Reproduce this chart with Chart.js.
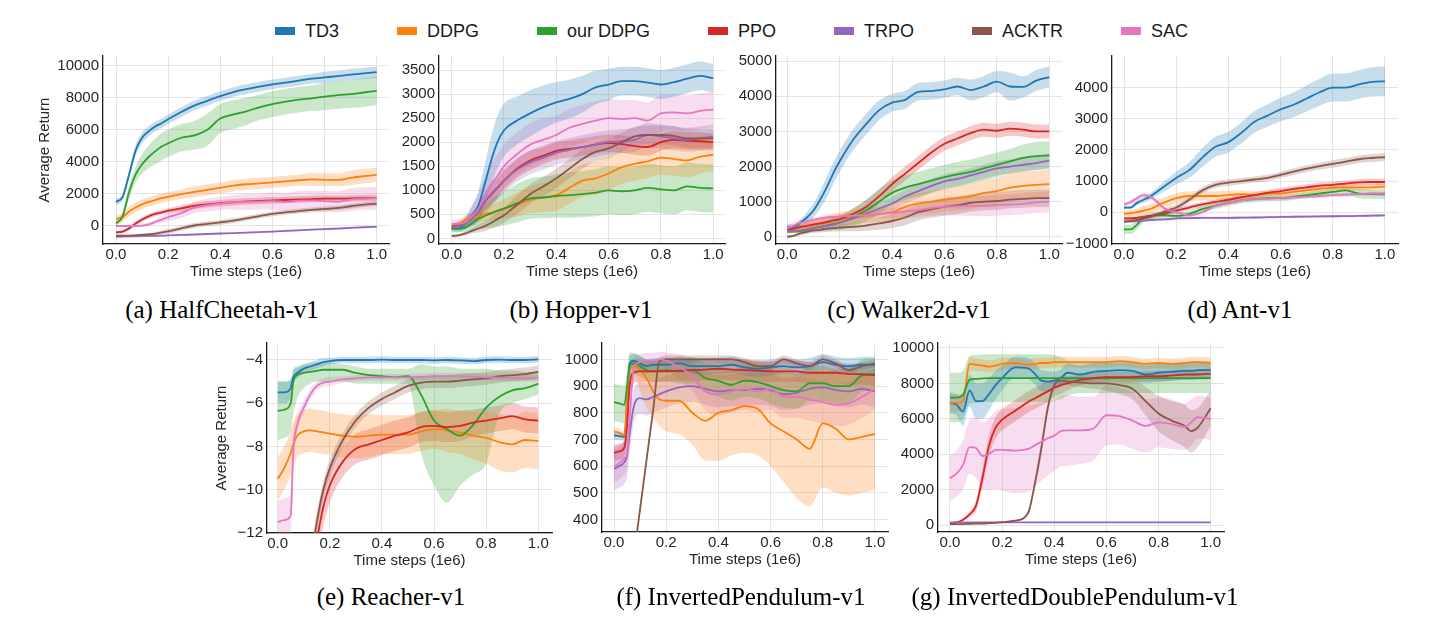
<!DOCTYPE html>
<html>
<head>
<meta charset="utf-8">
<script src="https://cdn.jsdelivr.net/npm/chart.js@4.4.1/dist/chart.umd.min.js"></script>
<style>
  body { margin: 0; background: #fff; width: 1447px; height: 634px; position: relative; overflow: hidden; font-family: 'Liberation Sans', Arial, sans-serif; }
  .panel { position: absolute; }
  .caption { position: absolute; font-family: 'Liberation Serif', 'Times New Roman', serif; font-size: 25px; line-height: 1; white-space: nowrap; transform: translate(-50%, -50%); color: #000; }
  #legend { position: absolute; left: 275px; top: 21px; display: flex; gap: 58px; font-size: 18px; line-height: 20px; color: #1a1a1a; }
  .item { display: flex; align-items: center; }
  .swatch { width: 20px; height: 8px; margin-right: 10px; }
</style>
</head>
<body>
<div id="legend"></div>
<script>
const algos = ['TD3', 'DDPG', 'our DDPG', 'PPO', 'TRPO', 'ACKTR', 'SAC'];
const colors = ['#1f77b4', '#ff7f0e', '#2ca02c', '#d62728', '#9467bd', '#8c564b', '#e377c2'];
const xTicks = [0, 0.2, 0.4, 0.6, 0.8, 1.0];

// time steps (1e6) for the four top panels
const stepsA = [0, 0.025, 0.05, 0.075, 0.1, 0.125, 0.15, 0.175, 0.2, 0.25, 0.3, 0.35, 0.4, 0.45, 0.5, 0.55, 0.6, 0.65, 0.7, 0.75, 0.8, 0.85, 0.9, 0.95, 1.0];

// (a) HalfCheetah
const hcTicks = [0, 2000, 4000, 6000, 8000, 10000];
const hcTD3 = [1500, 1800, 3200, 4700, 5500, 5900, 6200, 6400, 6650, 7100, 7500, 7800, 8100, 8350, 8530, 8690, 8830, 8940, 9060, 9180, 9260, 9340, 9430, 9510, 9590];
const hcTD3Sd = [200, 200, 300, 350, 350, 300, 300, 300, 300, 300, 300, 300, 300, 300, 300, 300, 300, 300, 300, 300, 350, 350, 350, 350, 350];
const hcDDPG = [450, 550, 900, 1150, 1350, 1500, 1620, 1730, 1820, 1980, 2120, 2250, 2380, 2520, 2600, 2650, 2720, 2780, 2850, 2900, 2880, 2870, 3000, 3100, 3180];
const hcDDPGSd = [200, 250, 300, 300, 300, 300, 300, 300, 300, 300, 350, 350, 350, 350, 350, 350, 350, 350, 350, 400, 400, 400, 450, 450, 450];
const hcOurs = [150, 600, 2100, 3200, 3850, 4300, 4650, 4950, 5150, 5500, 5650, 6000, 6700, 6950, 7150, 7400, 7600, 7750, 7880, 7960, 8060, 8160, 8220, 8320, 8420];
const hcOursSd = [150, 250, 400, 500, 600, 700, 800, 850, 850, 850, 900, 1000, 900, 900, 850, 800, 800, 800, 800, 800, 850, 850, 850, 900, 900];
const hcPPO = [-400, -350, -150, 150, 400, 600, 750, 850, 950, 1100, 1250, 1350, 1420, 1480, 1530, 1560, 1600, 1620, 1650, 1680, 1700, 1700, 1720, 1730, 1740];
const hcPPOSd = [100, 100, 120, 150, 150, 150, 150, 150, 150, 200, 200, 200, 200, 200, 200, 200, 200, 200, 200, 200, 200, 200, 200, 200, 200];
const hcTRPO = [-670, -660, -650, -640, -630, -620, -610, -600, -590, -560, -530, -500, -470, -440, -410, -380, -350, -310, -270, -230, -200, -160, -120, -80, -50];
const hcTRPOSd = [50, 50, 50, 50, 50, 50, 50, 50, 50, 50, 50, 50, 50, 50, 50, 50, 50, 50, 50, 50, 50, 50, 50, 50, 50];
const hcACKTR = [-600, -600, -600, -580, -550, -520, -470, -400, -330, -150, 30, 130, 230, 340, 480, 620, 750, 850, 930, 1000, 1060, 1130, 1230, 1330, 1400];
const hcACKTRSd = [50, 50, 50, 60, 80, 100, 100, 120, 150, 150, 150, 150, 150, 150, 150, 150, 150, 150, 150, 150, 150, 150, 150, 150, 150];
const hcSAC = [0, 0, 0, 0, 20, 100, 250, 400, 550, 800, 1150, 1300, 1400, 1480, 1500, 1520, 1550, 1500, 1580, 1600, 1550, 1500, 1650, 1700, 1730];
const hcSACSd = [50, 50, 50, 60, 80, 100, 150, 200, 250, 300, 350, 400, 400, 450, 500, 500, 550, 550, 600, 600, 650, 650, 700, 700, 700];

// (b) Hopper
const hopTicks = [0, 500, 1000, 1500, 2000, 2500, 3000, 3500];
const hopTD3 = [220, 200, 300, 450, 650, 1100, 1600, 2000, 2250, 2450, 2600, 2730, 2830, 2900, 3000, 3140, 3200, 3270, 3270, 3240, 3200, 3250, 3320, 3380, 3330];
const hopTD3Sd = [80, 80, 120, 200, 300, 400, 500, 550, 550, 500, 480, 450, 420, 400, 380, 350, 330, 300, 300, 300, 300, 300, 300, 300, 300];
const hopDDPG = [230, 300, 380, 430, 460, 500, 530, 580, 620, 700, 800, 850, 900, 1050, 1200, 1250, 1350, 1480, 1550, 1600, 1680, 1650, 1620, 1700, 1740];
const hopDDPGSd = [60, 60, 80, 100, 120, 150, 150, 170, 200, 250, 280, 300, 320, 330, 340, 350, 350, 350, 350, 350, 350, 350, 350, 350, 350];
const hopOurs = [200, 200, 220, 300, 400, 460, 520, 570, 620, 730, 830, 850, 880, 900, 920, 950, 1000, 980, 1000, 1050, 1020, 1000, 1080, 1050, 1040];
const hopOursSd = [50, 60, 80, 150, 200, 250, 300, 330, 350, 400, 420, 430, 450, 470, 480, 490, 500, 500, 500, 500, 500, 500, 500, 500, 500];
const hopPPO = [250, 260, 300, 420, 550, 750, 900, 1050, 1200, 1450, 1620, 1720, 1820, 1860, 1900, 1950, 1980, 1960, 1920, 1900, 2000, 2050, 2030, 2020, 2000];
const hopPPOSd = [60, 60, 80, 100, 150, 180, 200, 200, 200, 200, 200, 180, 180, 180, 180, 180, 180, 180, 180, 180, 180, 180, 180, 180, 180];
const hopTRPO = [240, 250, 300, 420, 550, 750, 920, 1060, 1200, 1430, 1580, 1680, 1780, 1840, 1900, 1950, 2000, 2020, 2050, 2150, 2120, 2080, 2050, 2080, 2120];
const hopTRPOSd = [60, 60, 80, 100, 150, 200, 250, 250, 250, 250, 250, 250, 250, 250, 250, 250, 250, 250, 250, 250, 250, 250, 250, 250, 250];
const hopACKTR = [50, 60, 100, 150, 200, 250, 320, 400, 480, 700, 920, 1080, 1250, 1450, 1650, 1800, 1870, 2000, 2120, 2150, 2150, 2130, 2080, 2080, 2080];
const hopACKTRSd = [30, 30, 40, 50, 80, 100, 120, 150, 150, 200, 200, 200, 200, 200, 200, 200, 200, 200, 200, 200, 200, 200, 200, 200, 200];
const hopSAC = [300, 310, 330, 450, 600, 850, 1100, 1300, 1500, 1750, 1950, 2050, 2150, 2300, 2380, 2450, 2500, 2480, 2500, 2450, 2600, 2620, 2600, 2650, 2680];
const hopSACSd = [80, 80, 100, 200, 300, 400, 450, 450, 450, 450, 450, 450, 400, 400, 400, 400, 400, 400, 380, 380, 380, 370, 370, 370, 370];

// (c) Walker2d
const wkTicks = [0, 1000, 2000, 3000, 4000, 5000];
const wkTD3 = [280, 280, 400, 550, 750, 1050, 1400, 1800, 2150, 2750, 3200, 3600, 3820, 3900, 4130, 4150, 4200, 4280, 4180, 4280, 4420, 4280, 4270, 4450, 4550];
const wkTD3Sd = [80, 80, 100, 150, 200, 250, 300, 300, 300, 300, 300, 280, 250, 250, 250, 250, 250, 250, 300, 300, 300, 400, 300, 300, 300];
const wkDDPG = [200, 220, 260, 300, 350, 390, 430, 470, 500, 560, 600, 650, 700, 850, 950, 1000, 1050, 1100, 1150, 1250, 1300, 1400, 1450, 1480, 1500];
const wkDDPGSd = [60, 60, 80, 100, 120, 150, 150, 180, 200, 200, 200, 220, 250, 280, 300, 320, 330, 350, 350, 370, 380, 400, 400, 400, 400];
const wkOurs = [150, 150, 160, 200, 250, 280, 320, 360, 400, 550, 750, 1000, 1250, 1400, 1500, 1600, 1700, 1780, 1850, 1950, 2050, 2150, 2250, 2300, 2320];
const wkOursSd = [50, 50, 60, 80, 100, 120, 150, 170, 200, 250, 300, 350, 350, 350, 350, 350, 350, 350, 350, 350, 350, 350, 380, 400, 400];
const wkPPO = [200, 230, 280, 320, 350, 380, 420, 460, 500, 650, 850, 1150, 1500, 1800, 2100, 2400, 2650, 2800, 2950, 3050, 3020, 3080, 3050, 3000, 3000];
const wkPPOSd = [60, 60, 70, 80, 90, 100, 100, 100, 100, 150, 200, 200, 200, 200, 200, 200, 200, 200, 200, 200, 200, 200, 200, 200, 200];
const wkTRPO = [150, 160, 180, 210, 250, 280, 310, 350, 400, 520, 650, 800, 950, 1150, 1300, 1450, 1580, 1650, 1750, 1850, 1950, 2000, 2050, 2100, 2170];
const wkTRPOSd = [50, 50, 60, 80, 100, 100, 120, 150, 150, 150, 180, 200, 200, 200, 200, 200, 200, 200, 200, 200, 200, 200, 200, 200, 200];
const wkACKTR = [0, 30, 100, 140, 180, 200, 230, 250, 260, 280, 320, 380, 450, 550, 700, 780, 860, 900, 970, 1000, 1020, 1060, 1080, 1100, 1100];
const wkACKTRSd = [30, 40, 50, 60, 70, 80, 90, 100, 100, 120, 150, 180, 200, 220, 230, 240, 250, 250, 250, 250, 250, 250, 250, 250, 250];
const wkSAC = [250, 320, 400, 440, 480, 520, 550, 570, 580, 600, 620, 650, 680, 720, 760, 820, 860, 870, 880, 880, 900, 920, 940, 980, 1000];
const wkSACSd = [100, 100, 80, 80, 70, 70, 70, 70, 70, 80, 100, 120, 150, 180, 200, 220, 250, 260, 280, 290, 300, 300, 300, 300, 300];

// (d) Ant
const antTicks = [-1000, 0, 1000, 2000, 3000, 4000];
const antTD3 = [150, 150, 300, 400, 500, 650, 800, 950, 1100, 1350, 1750, 2100, 2250, 2550, 2900, 3100, 3300, 3450, 3650, 3850, 4000, 4000, 4100, 4180, 4200];
const antTD3Sd = [50, 60, 80, 100, 100, 120, 150, 180, 200, 250, 300, 320, 330, 340, 350, 360, 380, 400, 420, 430, 450, 450, 460, 470, 480];
const antDDPG = [-50, -30, 0, 50, 100, 200, 300, 380, 450, 520, 520, 520, 550, 580, 550, 600, 600, 650, 700, 750, 780, 800, 800, 800, 820];
const antDDPGSd = [80, 100, 120, 150, 150, 160, 170, 170, 170, 150, 150, 150, 150, 120, 120, 100, 100, 100, 100, 100, 100, 100, 100, 100, 100];
const antOurs = [-550, -550, -400, -200, -150, -100, -100, -110, -120, -50, 100, 200, 300, 380, 420, 450, 450, 500, 550, 600, 650, 700, 600, 580, 570];
const antOursSd = [150, 150, 150, 120, 100, 100, 100, 100, 100, 100, 100, 100, 100, 100, 100, 100, 100, 100, 100, 100, 100, 120, 150, 150, 150];
const antPPO = [-200, -200, -180, -150, -120, -80, -50, 0, 50, 150, 250, 330, 400, 480, 550, 620, 680, 750, 800, 850, 880, 920, 960, 970, 970];
const antPPOSd = [60, 60, 60, 60, 60, 70, 70, 70, 80, 80, 80, 80, 80, 90, 90, 90, 100, 100, 100, 100, 100, 100, 100, 100, 100];
const antTRPO = [-300, -290, -280, -270, -250, -240, -230, -220, -200, -190, -180, -180, -180, -175, -170, -160, -150, -145, -140, -135, -130, -125, -120, -110, -100];
const antTRPOSd = [40, 40, 40, 40, 40, 40, 40, 40, 40, 40, 40, 40, 40, 40, 40, 40, 40, 40, 40, 40, 40, 40, 40, 40, 40];
const antACKTR = [-300, -280, -250, -200, -150, -80, 0, 80, 150, 400, 700, 880, 950, 1000, 1050, 1100, 1200, 1300, 1400, 1480, 1550, 1620, 1700, 1740, 1770];
const antACKTRSd = [60, 60, 70, 80, 80, 90, 100, 100, 100, 100, 100, 100, 100, 100, 100, 100, 100, 110, 110, 110, 120, 120, 120, 130, 130];
const antSAC = [250, 320, 450, 550, 500, 350, 150, 50, 0, -100, 0, 200, 300, 380, 420, 430, 450, 480, 500, 520, 550, 560, 580, 600, 600];
const antSACSd = [60, 70, 80, 80, 80, 70, 60, 50, 50, 50, 50, 60, 60, 60, 60, 60, 60, 60, 60, 60, 60, 60, 60, 60, 60];

// (e) Reacher
const stepsE = [0, 0.025, 0.05, 0.06, 0.075, 0.1, 0.125, 0.15, 0.175, 0.2, 0.25, 0.3, 0.35, 0.4, 0.45, 0.5, 0.55, 0.6, 0.65, 0.7, 0.75, 0.8, 0.85, 0.9, 0.95, 1.0];
const rchTicks = [-12, -10, -8, -6, -4];
const rchTD3 = [-5.5, -5.5, -5.3, -4.8, -4.6, -4.4, -4.3, -4.2, -4.1, -4.05, -4.0, -4.0, -4.0, -3.98, -4.0, -4.0, -4.0, -4.02, -4.0, -4.02, -4.05, -4.0, -3.98, -4.0, -4.0, -3.97];
const rchTD3Sd = [0.5, 0.5, 0.4, 0.3, 0.25, 0.2, 0.2, 0.2, 0.2, 0.15, 0.15, 0.15, 0.15, 0.15, 0.15, 0.15, 0.15, 0.15, 0.15, 0.15, 0.15, 0.15, 0.15, 0.15, 0.15, 0.15];
const rchDDPG = [-9.5, -9.0, -8.3, -7.9, -7.5, -7.3, -7.25, -7.3, -7.35, -7.4, -7.5, -7.55, -7.5, -7.45, -7.45, -7.45, -7.3, -7.2, -7.25, -7.35, -7.5, -7.6, -7.8, -7.9, -7.7, -7.75];
const rchDDPGSd = [1.0, 1.0, 1.0, 1.0, 1.0, 1.0, 1.0, 1.0, 1.0, 1.0, 1.0, 1.0, 1.0, 0.9, 0.9, 0.9, 0.9, 0.9, 1.0, 1.0, 1.1, 1.2, 1.3, 1.3, 1.3, 1.3];
const rchOurs = [-6.35, -6.3, -6.0, -5.0, -4.7, -4.6, -4.55, -4.5, -4.45, -4.45, -4.45, -4.6, -4.7, -4.75, -4.8, -4.75, -5.6, -6.8, -7.2, -7.5, -7.0, -6.2, -5.7, -5.4, -5.3, -5.1];
const rchOursLo = [-7.7, -7.6, -7.3, -6.5, -5.8, -5.3, -5.1, -5.0, -5.0, -5.0, -5.0, -5.1, -5.1, -5.1, -5.1, -5.1, -8.3, -9.8, -10.6, -9.8, -9.3, -8.8, -6.5, -6.0, -5.8, -5.6];
const rchOursHi = [-5.0, -5.0, -4.9, -4.4, -4.3, -4.2, -4.15, -4.1, -4.1, -4.1, -4.2, -4.3, -4.4, -4.4, -4.4, -4.4, -4.2, -4.3, -4.3, -4.4, -4.4, -4.4, -4.5, -4.5, -4.55, -4.6];
const rchPPO = [-25, -23, -21, -20, -19, -17, -14.5, -12.4, -10.8, -9.8, -8.7, -8.1, -7.9, -7.7, -7.5, -7.35, -7.1, -7.05, -7.1, -7.05, -6.9, -6.8, -6.7, -6.6, -6.75, -6.8];
const rchPPOSd = [1, 1, 1, 1, 1, 1, 1, 1, 0.9, 0.8, 0.7, 0.7, 0.7, 0.7, 0.7, 0.7, 0.7, 0.7, 0.7, 0.7, 0.6, 0.6, 0.6, 0.6, 0.6, 0.6];
const rchACKTR = [-24, -22, -20, -19, -18, -15.5, -13.5, -11.5, -10, -9.0, -7.7, -6.8, -6.2, -5.8, -5.5, -5.2, -5.05, -5.0, -5.0, -4.95, -4.9, -4.85, -4.75, -4.7, -4.65, -4.55];
const rchACKTRSd = [0.5, 0.5, 0.5, 0.5, 0.5, 0.5, 0.5, 0.45, 0.4, 0.4, 0.35, 0.3, 0.3, 0.3, 0.3, 0.3, 0.3, 0.3, 0.3, 0.3, 0.3, 0.3, 0.3, 0.3, 0.3, 0.3];
const rchSAC = [-11.5, -11.4, -11.2, -8.2, -7.0, -6.2, -5.6, -5.2, -5.05, -5.0, -4.9, -4.85, -4.8, -4.8, -4.8, -4.8, -4.78, -4.75, -4.75, -4.75, -4.78, -4.8, -4.82, -4.83, -4.85, -4.85];
const rchSACSd = [1.0, 1.0, 1.0, 0.8, 0.4, 0.3, 0.25, 0.2, 0.2, 0.2, 0.15, 0.15, 0.15, 0.15, 0.15, 0.15, 0.15, 0.15, 0.15, 0.15, 0.15, 0.15, 0.15, 0.15, 0.15, 0.15];

// (f) InvertedPendulum
const stepsF = [0, 0.02, 0.04, 0.05, 0.06, 0.075, 0.1, 0.125, 0.15, 0.175, 0.2, 0.25, 0.3, 0.35, 0.4, 0.45, 0.5, 0.55, 0.6, 0.65, 0.7, 0.75, 0.8, 0.85, 0.9, 0.95, 1.0];
const ipTicks = [400, 500, 600, 700, 800, 900, 1000];
const ipTD3 = [715, 712, 710, 850, 985, 995, 985, 975, 980, 980, 980, 985, 975, 975, 975, 980, 970, 965, 970, 975, 970, 975, 990, 980, 975, 980, 980];
const ipTD3Sd = [15, 15, 15, 30, 30, 25, 25, 25, 25, 25, 25, 25, 30, 30, 30, 30, 30, 30, 30, 30, 30, 30, 30, 30, 30, 30, 30];
const ipDDPG = [730, 725, 715, 850, 960, 985, 960, 930, 880, 850, 845, 845, 800, 770, 800, 810, 825, 815, 760, 730, 700, 665, 760, 740, 700, 710, 720];
const ipDDPGLo = [715, 710, 700, 800, 920, 960, 880, 820, 780, 750, 730, 720, 680, 620, 620, 640, 650, 640, 600, 540, 480, 450, 520, 500, 490, 500, 510];
const ipDDPGHi = [745, 740, 730, 900, 990, 1000, 1000, 995, 990, 990, 990, 990, 985, 985, 990, 990, 995, 990, 980, 975, 960, 950, 960, 960, 950, 955, 965];
const ipOurs = [840, 835, 830, 900, 975, 985, 975, 960, 955, 958, 960, 955, 960, 930, 920, 905, 920, 915, 900, 885, 880, 910, 910, 900, 900, 940, 945];
const ipOursSd = [70, 70, 70, 60, 50, 40, 40, 40, 40, 40, 40, 45, 50, 55, 60, 60, 60, 60, 65, 65, 65, 65, 65, 65, 65, 60, 60];
const ipPPO = [650, 655, 670, 750, 900, 950, 955, 955, 955, 955, 955, 958, 960, 962, 965, 962, 960, 958, 955, 955, 955, 950, 950, 950, 945, 945, 940];
const ipPPOSd = [30, 30, 30, 40, 40, 40, 40, 40, 40, 40, 40, 40, 40, 40, 40, 40, 40, 40, 40, 40, 40, 40, 40, 40, 40, 40, 40];
const ipTRPO = [590, 600, 615, 640, 720, 820, 855, 850, 860, 870, 880, 895, 900, 890, 880, 885, 885, 890, 885, 870, 875, 890, 895, 885, 880, 890, 880];
const ipTRPOSd = [80, 80, 80, 80, 70, 60, 60, 60, 60, 60, 60, 60, 60, 60, 60, 60, 60, 60, 60, 60, 60, 60, 60, 60, 60, 60, 60];
const ipACKTR = [-300, -150, 0, 70, 145, 255, 440, 625, 810, 995, 1000, 1000, 1000, 1000, 1000, 1000, 990, 975, 975, 1000, 985, 975, 1000, 985, 960, 975, 985];
const ipACKTRSd = [15, 15, 15, 15, 15, 15, 15, 15, 15, 15, 15, 15, 15, 15, 15, 15, 15, 15, 15, 15, 15, 15, 15, 15, 15, 15, 15];
const ipSAC = [600, 610, 630, 650, 780, 960, 990, 995, 995, 1000, 995, 970, 940, 880, 870, 880, 890, 880, 890, 860, 860, 850, 840, 830, 835, 860, 890];
const ipSACSd = [60, 60, 60, 60, 60, 40, 30, 30, 30, 30, 30, 50, 60, 70, 80, 80, 80, 80, 80, 80, 80, 80, 80, 80, 80, 80, 80];

// (g) InvertedDoublePendulum
const stepsG = [0, 0.025, 0.05, 0.075, 0.1, 0.125, 0.15, 0.175, 0.2, 0.25, 0.3, 0.325, 0.35, 0.375, 0.4, 0.425, 0.45, 0.5, 0.55, 0.6, 0.65, 0.7, 0.75, 0.8, 0.85, 0.9, 0.925, 0.95, 1.0];
const idpTicks = [0, 2000, 4000, 6000, 8000, 10000];
const idpTD3 = [6900, 6800, 6400, 7600, 7000, 7000, 7400, 7900, 8300, 8900, 8850, 8550, 8150, 8100, 8150, 8300, 8600, 8500, 8650, 8700, 8750, 8700, 8500, 8600, 8650, 8700, 8700, 8750, 8750];
const idpTD3Sd = [600, 600, 800, 900, 1000, 1000, 900, 800, 700, 600, 600, 600, 600, 600, 500, 500, 500, 500, 500, 500, 500, 500, 500, 500, 500, 500, 500, 500, 500];
const idpDDPG = [6900, 6900, 7000, 9100, 9050, 9000, 8950, 9000, 9100, 9150, 9050, 9100, 9150, 9150, 9200, 9200, 9200, 9200, 9200, 9200, 9250, 9200, 9100, 9150, 9100, 9150, 9200, 9200, 9150];
const idpDDPGSd = [500, 500, 500, 400, 350, 350, 350, 350, 350, 300, 300, 300, 300, 300, 300, 300, 300, 300, 300, 300, 300, 300, 300, 300, 300, 300, 300, 300, 300];
const idpOurs = [7200, 7200, 7350, 8200, 8250, 8280, 8300, 8300, 8300, 8300, 8300, 8300, 8300, 8300, 8300, 8300, 8300, 8300, 8300, 8300, 8300, 8300, 8300, 8300, 8300, 8300, 8300, 8300, 8300];
const idpOursSd = [1400, 1400, 1350, 1350, 1350, 1350, 1350, 1350, 1350, 1350, 1350, 1350, 1350, 1350, 1300, 1200, 1000, 850, 850, 850, 850, 850, 850, 850, 850, 850, 850, 850, 850];
const idpPPO = [100, 150, 300, 600, 1100, 2700, 4500, 5500, 5950, 6450, 6950, 7150, 7350, 7550, 7750, 7900, 8000, 8200, 8300, 8350, 8350, 8350, 8400, 8400, 8450, 8500, 8500, 8500, 8550];
const idpPPOSd = [50, 50, 80, 150, 300, 500, 600, 600, 600, 600, 600, 600, 600, 600, 500, 500, 400, 300, 300, 300, 300, 300, 300, 300, 300, 300, 300, 300, 300];
const idpTRPO = [150, 150, 150, 150, 150, 150, 150, 150, 150, 150, 150, 150, 150, 150, 150, 150, 150, 150, 150, 150, 150, 150, 150, 150, 150, 150, 150, 150, 150];
const idpTRPOSd = [30, 30, 30, 30, 30, 30, 30, 30, 30, 30, 30, 30, 30, 30, 30, 30, 30, 30, 30, 30, 30, 30, 30, 30, 30, 30, 30, 30, 30];
const idpACKTR = [50, 55, 60, 70, 80, 90, 110, 130, 170, 250, 700, 2300, 4300, 6600, 7900, 8150, 8100, 8050, 8000, 8000, 7900, 7700, 7000, 6300, 5900, 5600, 5300, 5500, 6600];
const idpACKTRSd = [20, 20, 20, 20, 20, 20, 30, 30, 30, 50, 150, 300, 400, 300, 200, 200, 200, 250, 300, 400, 500, 600, 800, 1000, 1100, 1200, 1200, 1100, 1000];
const idpSAC = [2650, 2900, 3400, 4400, 4350, 3900, 4000, 4250, 4250, 4200, 4300, 4500, 4700, 4900, 5050, 5300, 5350, 5350, 5450, 6200, 6150, 5900, 5600, 5800, 5700, 5550, 5800, 6100, 6000];
const idpSACSd = [1300, 1300, 1400, 1500, 1700, 1900, 2000, 2200, 2300, 2400, 2400, 2300, 2200, 2100, 2000, 2000, 2000, 1900, 1800, 1700, 1600, 1600, 1500, 1400, 1400, 1300, 1300, 1200, 1200];

const panels = [
  {caption: '(a) HalfCheetah-v1', cx: 222, cy: 309, left: 103, top: 53, w: 286, h: 191, yw: 67, ytitle: true,
   xmin: -0.05, xmax: 1.047, ymin: -1123, ymax: 10595, yTicks: hcTicks, steps: stepsA,
   series: [[hcTD3, hcTD3Sd], [hcDDPG, hcDDPGSd], [hcOurs, hcOursSd], [hcPPO, hcPPOSd], [hcTRPO, hcTRPOSd], [hcACKTR, hcACKTRSd], [hcSAC, hcSACSd]]},
  {caption: '(b) Hopper-v1', cx: 581, cy: 309, left: 439, top: 53, w: 286, h: 191, yw: 55,
   xmin: -0.0485, xmax: 1.045, ymin: -117, ymax: 3793, yTicks: hopTicks, steps: stepsA,
   series: [[hopTD3, hopTD3Sd], [hopDDPG, hopDDPGSd], [hopOurs, hopOursSd], [hopPPO, hopPPOSd], [hopTRPO, hopTRPOSd], [hopACKTR, hopACKTRSd], [hopSAC, hopSACSd]]},
  {caption: '(c) Walker2d-v1', cx: 909, cy: 309, left: 776, top: 53, w: 286, h: 191, yw: 55,
   xmin: -0.043, xmax: 1.0485, ymin: -205, ymax: 5149, yTicks: wkTicks, steps: stepsA,
   series: [[wkTD3, wkTD3Sd], [wkDDPG, wkDDPGSd], [wkOurs, wkOursSd], [wkPPO, wkPPOSd], [wkTRPO, wkTRPOSd], [wkACKTR, wkACKTRSd], [wkSAC, wkSACSd]]},
  {caption: '(d) Ant-v1', cx: 1240, cy: 309, left: 1112, top: 53, w: 286, h: 191, yw: 55,
   xmin: -0.046, xmax: 1.05, ymin: -1020, ymax: 5013, yTicks: antTicks, steps: stepsA,
   series: [[antTD3, antTD3Sd], [antDDPG, antDDPGSd], [antOurs, antOursSd], [antPPO, antPPOSd], [antTRPO, antTRPOSd], [antACKTR, antACKTRSd], [antSAC, antSACSd]]},
  {caption: '(e) Reacher-v1', cx: 391, cy: 596, left: 267, top: 340, w: 285, h: 193, yw: 54, ytitle: true,
   xmin: -0.041, xmax: 1.0526, ymin: -12, ymax: -3.214, yTicks: rchTicks, steps: stepsE,
   series: [[rchTD3, rchTD3Sd], [rchDDPG, rchDDPGSd], [rchOurs, null, rchOursLo, rchOursHi], [rchPPO, rchPPOSd], null, [rchACKTR, rchACKTRSd], [rchSAC, rchSACSd]]},
  {caption: '(f) InvertedPendulum-v1', cx: 741, cy: 596, left: 602, top: 340, w: 286, h: 192, yw: 55,
   xmin: -0.046, xmax: 1.05, ymin: 353, ymax: 1061.6, yTicks: ipTicks, steps: stepsF,
   series: [[ipTD3, ipTD3Sd], [ipDDPG, null, ipDDPGLo, ipDDPGHi], [ipOurs, ipOursSd], [ipPPO, ipPPOSd], [ipTRPO, ipTRPOSd], [ipACKTR, ipACKTRSd], [ipSAC, ipSACSd]]},
  {caption: '(g) InvertedDoublePendulum-v1', cx: 1075, cy: 596, left: 938, top: 340, w: 286, h: 192, yw: 55,
   xmin: -0.046, xmax: 1.051, ymin: -389, ymax: 10278, yTicks: idpTicks, steps: stepsG,
   series: [[idpTD3, idpTD3Sd], [idpDDPG, idpDDPGSd], [idpOurs, idpOursSd], [idpPPO, idpPPOSd], [idpTRPO, idpTRPOSd], [idpACKTR, idpACKTRSd], [idpSAC, idpSACSd]]},
];

const PAD_T = 10, PAD_R = 14, XH = 37;
const tickFont = {family: "'Liberation Sans', Arial, sans-serif", size: 15};
const textColor = '#262626';
const gridColor = '#e4e4e4';

function hexToRgba(hex, a) {
  const n = parseInt(hex.slice(1), 16);
  return `rgba(${n >> 16},${(n >> 8) & 255},${n & 255},${a})`;
}

function fmtNum(v) {
  return String(Math.round(v * 100) / 100).replace('-', '\u2212');
}

function buildDatasets(p) {
  const lines = [], bands = [];
  p.series.forEach((s, k) => {
    if (!s) return;
    const [mean, sd, lo, hi] = s;
    const pts = arr => p.steps.map((x, i) => ({x, y: arr[i]}));
    const lower = lo ? lo : mean.map((v, i) => v - sd[i]);
    const upper = hi ? hi : mean.map((v, i) => v + sd[i]);
    bands.push({data: pts(lower), borderWidth: 0, fill: false, order: 100});
    bands.push({data: pts(upper), borderWidth: 0, fill: '-1', backgroundColor: hexToRgba(colors[k], 0.25), order: 100});
    lines.push({label: algos[k], data: pts(mean), borderColor: colors[k], borderWidth: 1.8, fill: false, order: 20 - k});
  });
  // band pairs first so '-1' fill targets stay adjacent
  return bands.concat(lines);
}

function makePanel(p) {
  const box = document.createElement('div');
  box.className = 'panel';
  box.style.left = (p.left - p.yw) + 'px';
  box.style.top = (p.top - PAD_T) + 'px';
  box.style.width = (p.w + p.yw + PAD_R) + 'px';
  box.style.height = (p.h + PAD_T + XH) + 'px';
  const canvas = document.createElement('canvas');
  box.appendChild(canvas);
  document.body.appendChild(box);

  const cap = document.createElement('div');
  cap.className = 'caption';
  cap.style.left = p.cx + 'px';
  cap.style.top = p.cy + 'px';
  cap.textContent = p.caption;
  document.body.appendChild(cap);

  new Chart(canvas, {
    type: 'line',
    data: {datasets: buildDatasets(p)},
    options: {
      responsive: true,
      maintainAspectRatio: false,
      animation: false,
      events: [],
      layout: {padding: {left: 0, top: PAD_T, right: PAD_R, bottom: 0}},
      plugins: {legend: {display: false}, tooltip: {enabled: false}},
      elements: {point: {radius: 0}, line: {cubicInterpolationMode: 'monotone'}},
      scales: {
        x: {
          type: 'linear', min: p.xmin, max: p.xmax,
          afterBuildTicks: ax => { ax.ticks = xTicks.map(v => ({value: v})); },
          afterFit: ax => { ax.height = XH; },
          ticks: {callback: v => v.toFixed(1), font: tickFont, color: textColor, padding: 2, maxRotation: 0, autoSkip: false},
          grid: {color: gridColor, drawTicks: false},
          border: {color: '#1a1a1a', width: 1.3},
          title: {display: true, text: 'Time steps (1e6)', font: tickFont, color: textColor, padding: 0}
        },
        y: {
          type: 'linear', min: p.ymin, max: p.ymax,
          afterBuildTicks: ax => { ax.ticks = p.yTicks.map(v => ({value: v})); },
          afterFit: ax => { ax.width = p.yw; },
          ticks: {callback: v => fmtNum(v), font: tickFont, color: textColor, padding: 4, autoSkip: false},
          grid: {color: gridColor, drawTicks: false},
          border: {color: '#1a1a1a', width: 1.3},
          title: {display: !!p.ytitle, text: 'Average Return', font: tickFont, color: textColor, padding: 0}
        }
      }
    }
  });
}

const legend = document.getElementById('legend');
algos.forEach((name, k) => {
  const item = document.createElement('div');
  item.className = 'item';
  const sw = document.createElement('span');
  sw.className = 'swatch';
  sw.style.background = colors[k];
  const label = document.createElement('span');
  label.textContent = name;
  item.appendChild(sw);
  item.appendChild(label);
  legend.appendChild(item);
});

panels.forEach(makePanel);
</script>
</body>
</html>
